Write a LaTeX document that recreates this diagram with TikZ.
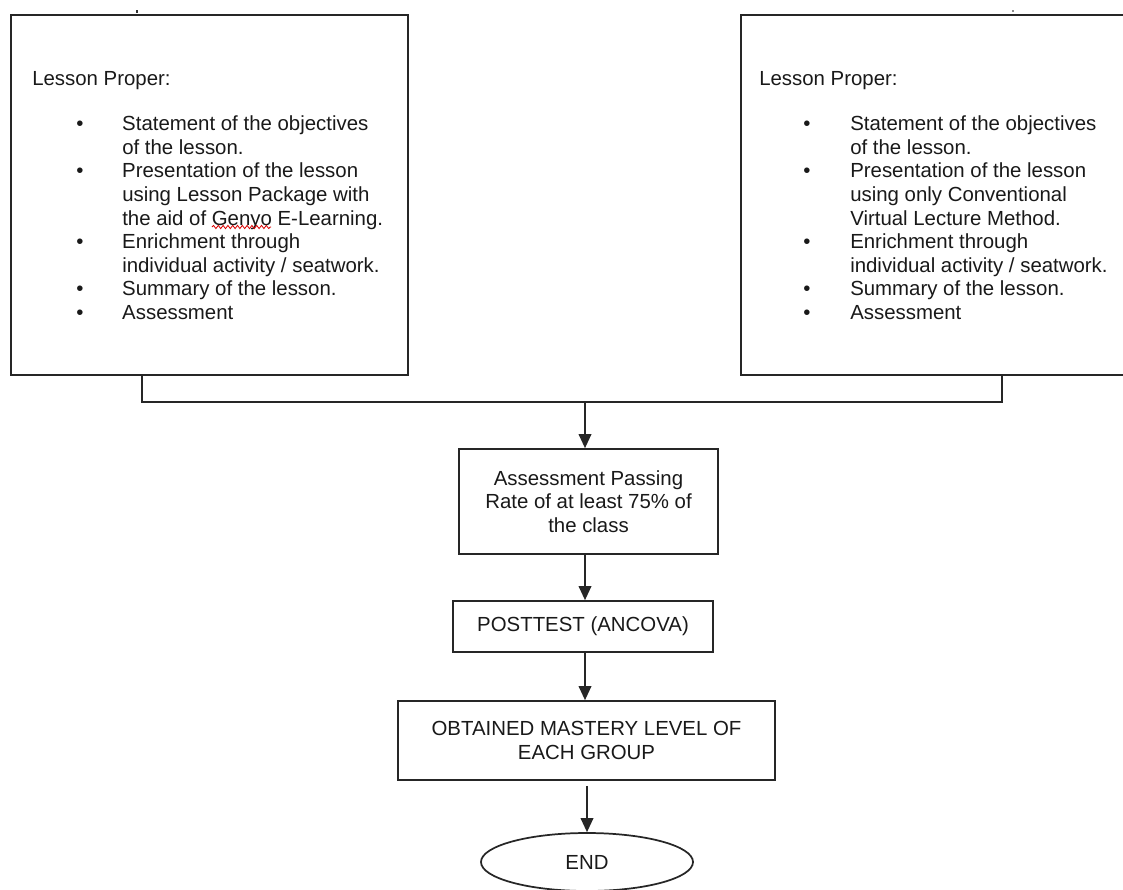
\documentclass[tikz,border=0pt]{standalone}
\usepackage{fontspec}
\setmainfont{Liberation Sans}
\usepackage{array}
\usetikzlibrary{arrows.meta,shapes.geometric,decorations.pathmorphing}

\newcommand{\itembullet}{\hspace*{33pt}\textbullet}

\begin{document}
\begin{tikzpicture}[x=0.75pt,y=-0.75pt,
    txt/.style={font=\fontsize{15.3pt}{17.7pt}\selectfont,text=black!90},
    lessonbox/.style={draw=black!85,line width=1.3pt,rectangle,minimum width=297.75pt,minimum height=270pt,anchor=north west,inner sep=0pt},
    lessontext/.style={txt,anchor=north west,inner sep=0pt},
    flowbox/.style={txt,draw=black!85,line width=1.3pt,rectangle,align=center,inner sep=0pt},
    arrow/.style={draw=black!85,line width=1.1pt,-{Triangle[width=9.5pt,length=10.5pt]}}]
    \useasboundingbox (0,0) rectangle (1123,889);

    % Stubs of lines cut off at the top
    \draw[black!80,line width=2.2pt] (137,10) -- (137,13);
    \draw[black!45,line width=1.5pt] (1013,10) -- (1013,12);

    % Left lesson box
    \node[lessonbox] (leftbox) at (10,14) {};
    \node[lessontext] (lefttext) at (32,69) {%
        \begin{tabular}{@{}p{67.5pt}@{}l@{}}
        \multicolumn{2}{@{}l@{}}{Lesson Proper:}\\[16pt]
        \itembullet & Statement of the objectives\\
                    & of the lesson.\\
        \itembullet & Presentation of the lesson\\
                    & using Lesson Package with\\
                    & the aid of Genyo E-Learning.\\
        \itembullet & Enrichment through\\
                    & individual activity / seatwork.\\
        \itembullet & Summary of the lesson.\\
        \itembullet & Assessment
        \end{tabular}};
    % spell-check squiggle under Genyo
    \draw[red!85!black,line width=0.6pt,decorate,decoration={snake,amplitude=1.2pt,segment length=3.6pt}] (212,227) -- (271,227);

    % Right lesson box
    \node[lessonbox] (rightbox) at (740,14) {};
    \node[lessontext] (righttext) at (759,69) {%
        \begin{tabular}{@{}p{68.25pt}@{}l@{}}
        \multicolumn{2}{@{}l@{}}{Lesson Proper:}\\[16pt]
        \itembullet & Statement of the objectives\\
                    & of the lesson.\\
        \itembullet & Presentation of the lesson\\
                    & using only Conventional\\
                    & Virtual Lecture Method.\\
        \itembullet & Enrichment through\\
                    & individual activity / seatwork.\\
        \itembullet & Summary of the lesson.\\
        \itembullet & Assessment
        \end{tabular}};

    % Flow boxes
    \node[flowbox,minimum width=194.25pt,minimum height=78.75pt] (assess) at (588.5,501.5)
        {Assessment Passing\\Rate of at least 75\% of\\the class};
    \node[flowbox,minimum width=195pt,minimum height=38.25pt] (post) at (583,626.5)
        {POSTTEST (ANCOVA)};
    \node[flowbox,minimum width=282.75pt,minimum height=59.25pt] (obtained) at (586.5,740.5)
        {OBTAINED MASTERY LEVEL OF\\EACH GROUP};
    \node[txt,draw=black!85,line width=1.3pt,ellipse,minimum width=159pt,minimum height=43.5pt,inner sep=0pt] (finish) at (587,862) {END};

    % Joining line under the two lesson boxes
    \coordinate (ljoin) at (142,402);
    \coordinate (rjoin) at (1002,402);
    \coordinate (mjoin) at (585,402);
    \draw[black!85,line width=1.3pt] (leftbox.south -| ljoin) -- (ljoin) -- (rjoin) -- (rightbox.south -| rjoin);

    % Arrows down the flow
    \draw[arrow] (mjoin) -- (mjoin |- assess.north);
    \draw[arrow] (assess.south -| mjoin) -- (post.north -| mjoin);
    \draw[arrow] (post.south -| mjoin) -- (obtained.north -| mjoin);
    \draw[arrow,shorten <=3.75pt] (obtained.south -| finish.north) -- (finish.north);
\end{tikzpicture}
\end{document}
